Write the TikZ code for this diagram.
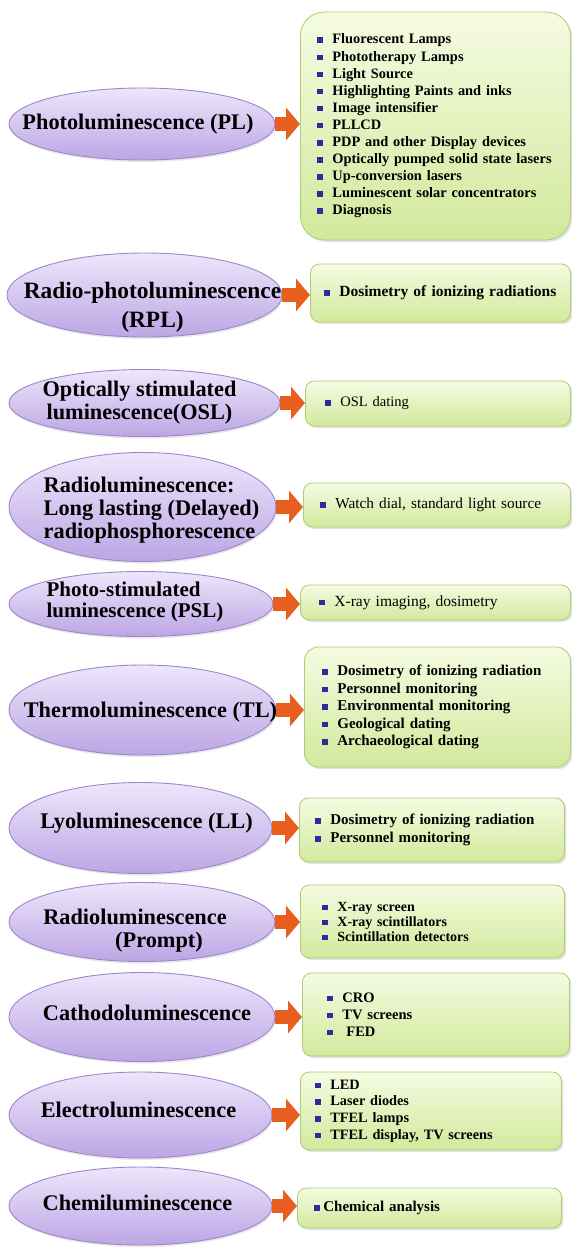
\documentclass[tikz,border=0pt]{standalone}
\usepackage{fontspec}
\setmainfont{Liberation Serif}
\usetikzlibrary{arrows.meta,shapes.geometric,shadows}

\definecolor{lumtop}{RGB}{238,230,251}
\definecolor{lumbot}{RGB}{188,166,228}
\definecolor{lumline}{RGB}{158,134,206}
\definecolor{usetop}{RGB}{245,251,226}
\definecolor{usebot}{RGB}{210,233,156}
\definecolor{useline}{RGB}{174,204,116}
\definecolor{feedor}{RGB}{232,94,30}
\definecolor{bulblue}{RGB}{44,44,160}

\newcommand{\bul}{\textcolor{bulblue}{\rule[1pt]{6pt}{5.5pt}}\hspace{9pt}}

\tikzset{
  lum/.style={ellipse, draw=lumline, line width=0.9pt, top color=lumtop, bottom color=lumbot,
    inner sep=0pt, drop shadow={opacity=0.18, shadow xshift=1pt, shadow yshift=-2pt}},
  lumtext/.style={align=center, inner sep=0pt, font=\fontsize{22.3}{23}\selectfont\bfseries},
  usebox/.style={rectangle, rounded corners=9pt, draw=useline, line width=0.8pt,
    top color=usetop, bottom color=usebot, anchor=west, inner ysep=0pt, align=left,
    drop shadow={opacity=0.22, shadow xshift=2pt, shadow yshift=-2pt}},
  feedarrow/.style={draw=feedor, line width=14pt, -{Triangle[width=32pt,length=14pt]}}
}

\begin{document}
\begin{tikzpicture}[x=1pt, y=-1pt]
\path[use as bounding box, fill=white] (0,0) rectangle (571,1247);

% Photoluminescence
\node[lum, minimum width=266pt, minimum height=72pt] (pl) at (142,124) {};
\node[lumtext, xshift=-4pt] (pl-t) at (pl) {Photoluminescence (PL)};
\node[usebox, inner xsep=17pt, text width=236pt, minimum height=228pt, rounded corners=24pt,
  font=\fontsize{14.4}{17.1}\selectfont\bfseries] (pl-use) at (300,126)
  {\bul Fluorescent Lamps\\ \bul Phototherapy Lamps\\ \bul Light Source\\
   \bul Highlighting Paints and inks\\ \bul Image intensifier\\ \bul PLLCD\\
   \bul PDP and other Display devices\\ \mbox{\bul Optically pumped solid state lasers}\\
   \bul Up-conversion lasers\\ \bul Luminescent solar concentrators\\ \bul Diagnosis};
\draw[feedarrow] (pl.east) -- (pl.east -| pl-use.west);

% Radio-photoluminescence
\node[lum, minimum width=275pt, minimum height=84pt] (rpl) at (144.5,295) {};
\node[lumtext, xshift=8pt, yshift=-12pt, font=\fontsize{23.4}{29}\selectfont\bfseries] (rpl-t) at (rpl)
  {Radio-photoluminescence\\(RPL)};
\node[usebox, inner xsep=14pt, text width=232pt, minimum height=58pt,
  font=\fontsize{15.5}{18}\selectfont\bfseries] (rpl-use) at (310,293)
  {\bul Dosimetry of ionizing radiations};
\draw[feedarrow] (rpl.east) -- (rpl.east -| rpl-use.west);

% Optically stimulated luminescence
\node[lum, minimum width=271pt, minimum height=67pt] (osl) at (144.5,403) {};
\node[lumtext, xshift=-5pt] (osl-t) at (osl) {Optically stimulated\\luminescence(OSL)};
\node[usebox, inner xsep=20pt, text width=225pt, minimum height=45pt,
  font=\fontsize{14.5}{17}\selectfont] (osl-use) at (305,403.5)
  {\bul OSL dating};
\draw[feedarrow] (osl.east) -- (osl.east -| osl-use.west);

% Radioluminescence (delayed)
\node[lum, minimum width=267pt, minimum height=109pt] (rpd) at (142.5,507) {};
\node[lumtext, align=left, xshift=9pt, yshift=-3pt] (rpd-t) at (rpd)
  {Radioluminescence:\\Long lasting (Delayed)\\radiophosphorescence};
\node[usebox, inner xsep=17pt, text width=233pt, minimum height=44pt,
  font=\fontsize{15.3}{18}\selectfont] (rpd-use) at (303,505)
  {\bul Watch dial, standard light source};
\draw[feedarrow] (rpd.east) -- (rpd.east -| rpd-use.west);

% Photo-stimulated luminescence
\node[lum, minimum width=264pt, minimum height=65pt] (psl) at (141,604) {};
\node[lumtext, align=left, xshift=-6pt, yshift=2pt, font=\fontsize{21}{20.5}\selectfont\bfseries] (psl-t) at (psl)
  {Photo-stimulated\\luminescence (PSL)};
\node[usebox, inner xsep=19pt, text width=232pt, minimum height=35pt,
  font=\fontsize{15.5}{17}\selectfont] (psl-use) at (300,602.5)
  {\bul X-ray imaging, dosimetry};
\draw[feedarrow] (psl.east) -- (psl.east -| psl-use.west);

% Thermoluminescence
\node[lum, minimum width=267pt, minimum height=90pt] (tl) at (142.5,710) {};
\node[lumtext, xshift=8pt, yshift=-2pt] (tl-t) at (tl) {Thermoluminescence (TL)};
\node[usebox, inner xsep=18pt, text width=230pt, minimum height=120pt, rounded corners=14pt,
  font=\fontsize{15}{17.5}\selectfont\bfseries] (tl-use) at (304,707)
  {\bul Dosimetry of ionizing radiation\\ \bul Personnel monitoring\\
   \bul Environmental monitoring\\ \bul Geological dating\\ \bul Archaeological dating};
\draw[feedarrow] (tl.east) -- (tl.east -| tl-use.west);

% Lyoluminescence
\node[lum, minimum width=263pt, minimum height=91pt] (ll) at (140.5,828) {};
\node[lumtext, xshift=6pt, yshift=5pt] (ll-t) at (ll) {Lyoluminescence (LL)};
\node[usebox, inner xsep=16pt, text width=233pt, minimum height=64pt,
  font=\fontsize{15}{18}\selectfont\bfseries] (ll-use) at (299,830)
  {\bul Dosimetry of ionizing radiation\\ \bul Personnel monitoring};
\draw[feedarrow] (ll.east) -- (ll.east -| ll-use.west);

% Radioluminescence (prompt)
\node[lum, minimum width=266pt, minimum height=79pt] (rlp) at (142,922) {};
\node[lumtext, xshift=-7pt, yshift=-9pt] (rlp-t) at (rlp)
  {Radioluminescence\\\hspace*{48pt}(Prompt)};
\node[usebox, inner xsep=22pt, text width=220pt, minimum height=73pt,
  font=\fontsize{14}{15}\selectfont\bfseries] (rlp-use) at (300,921.5)
  {\bul X-ray screen\\ \bul X-ray scintillators\\ \bul Scintillation detectors};
\draw[feedarrow] (rlp.east) -- (rlp.east -| rlp-use.west);

% Cathodoluminescence
\node[lum, minimum width=266pt, minimum height=89pt] (cl) at (142,1017) {};
\node[lumtext, xshift=5pt, yshift=4pt] (cl-t) at (cl) {Cathodoluminescence};
\node[usebox, inner xsep=25pt, text width=217pt, minimum height=83pt,
  font=\fontsize{14.5}{17}\selectfont\bfseries] (cl-use) at (302,1014.5)
  {\bul CRO\\ \bul TV screens\\ \bul \hspace{4pt}FED};
\draw[feedarrow] (cl.east) -- (cl.east -| cl-use.west);

% Electroluminescence
\node[lum, minimum width=263pt, minimum height=86pt] (el) at (140.5,1115) {};
\node[lumtext, xshift=-2pt, yshift=5pt] (el-t) at (el) {Electroluminescence};
\node[usebox, inner xsep=15pt, text width=231pt, minimum height=78pt,
  font=\fontsize{14.3}{16.7}\selectfont\bfseries] (el-use) at (300,1111)
  {\bul LED\\ \bul Laser diodes\\ \bul TFEL lamps\\ \bul TFEL display, TV screens};
\draw[feedarrow] (el.east) -- (el.east -| el-use.west);

% Chemiluminescence
\node[lum, minimum width=263pt, minimum height=78pt] (chl) at (140.5,1206) {};
\node[lumtext, xshift=-3pt, yshift=3pt] (chl-t) at (chl) {Chemiluminescence};
\node[usebox, inner xsep=17pt, text width=230pt, minimum height=40pt,
  font=\fontsize{15}{17}\selectfont\bfseries] (chl-use) at (297,1208)
  {\textcolor{bulblue}{\rule[1pt]{6pt}{5.5pt}}\hspace{3pt}Chemical analysis};
\draw[feedarrow] (chl.east) -- (chl.east -| chl-use.west);
\end{tikzpicture}
\end{document}
